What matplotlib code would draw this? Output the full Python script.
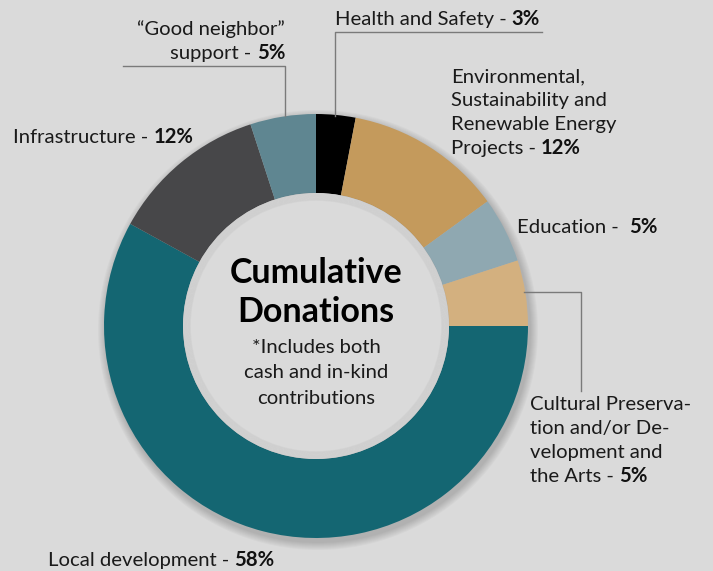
import matplotlib
matplotlib.use("Agg")
import matplotlib.pyplot as plt
from matplotlib.patches import Circle

# data
categories = ["Health and Safety", "Environmental, Sustainability and Renewable Energy Projects",
              "Education", "Cultural Preservation and/or Development and the Arts",
              "Local development", "Infrastructure", "\u201cGood neighbor\u201d support"]
shares = [3, 12, 5, 5, 58, 12, 5]
colors = ["#000000", "#c49a5c", "#8fa8b1", "#d3b07f", "#146672", "#474749", "#5f8691"]

W, H = 713, 571
BG = "#dadada"
FONT = ["Lato", "DejaVu Sans"]
FS = 14.6
LINE = "#7a7a7a"

fig = plt.figure(figsize=(W / 100, H / 100), dpi=100, facecolor=BG)
ax = fig.add_axes([0, 0, 1, 1])
ax.set_facecolor(BG)

cx, cy = 316, H - 326
r_out, r_in = 212, 133

# soft shadow behind the ring
for k in range(8):
    ax.add_patch(Circle((cx + 2, cy - 4), r_out + 8 - k, color="#000000", alpha=0.022, lw=0, zorder=0))

ax.pie(shares, colors=colors, startangle=90, counterclock=False, radius=r_out,
       center=(cx, cy), frame=True, wedgeprops=dict(width=r_out - r_in, linewidth=0))

# hole with soft inner shading
ax.add_patch(Circle((cx, cy), r_in, color=BG, lw=0, zorder=3))
for k in range(10):
    ax.add_patch(Circle((cx, cy), r_in - 0.8 * k, fill=False, ec="#000000", lw=1.0, alpha=0.022, zorder=4))

ax.set_xlim(0, W)
ax.set_ylim(0, H)
ax.set_aspect("equal")
ax.axis("off")

renderer = fig.canvas.get_renderer()


def y(v):
    return H - v


def label(x, yb, text, value, ha="left"):
    # regular text followed by a bold value on the same baseline
    if ha == "left":
        t = ax.text(x, y(yb), text, fontsize=FS, family=FONT, va="baseline", ha="left", color="#1a1a1a")
        bb = t.get_window_extent(renderer)
        x2 = ax.transData.inverted().transform((bb.x1, 0))[0]
        ax.text(x2, y(yb), value, fontsize=FS, family=FONT, fontweight="bold", va="baseline", ha="left", color="#111111")
    else:
        t = ax.text(x, y(yb), value, fontsize=FS, family=FONT, fontweight="bold", va="baseline", ha="right", color="#111111")
        bb = t.get_window_extent(renderer)
        x2 = ax.transData.inverted().transform((bb.x0, 0))[0]
        ax.text(x2, y(yb), text, fontsize=FS, family=FONT, va="baseline", ha="right", color="#1a1a1a")


def plain(x, yb, text, ha="left"):
    ax.text(x, y(yb), text, fontsize=FS, family=FONT, va="baseline", ha=ha, color="#1a1a1a")


def pct(v):
    return f"{v}%"


# Health and Safety
label(335, 25, "Health and Safety - ", pct(shares[0]))
ax.plot([335, 335, 542], [y(116), y(32), y(32)], color=LINE, lw=1, zorder=1)

# Environmental
plain(451, 82, "Environmental,")
plain(451, 106, "Sustainability and")
plain(451, 130, "Renewable Energy")
label(451, 154, "Projects - ", pct(shares[1]))

# Education
label(517, 233, "Education -  ", pct(shares[2]))

# Cultural
ax.plot([524, 581, 581], [y(292), y(292), y(391)], color=LINE, lw=1, zorder=1)
plain(530, 410, "Cultural Preserva-")
plain(530, 434, "tion and/or De-")
plain(530, 458, "velopment and")
label(530, 482, "the Arts - ", pct(shares[3]))

# Local development
label(48, 566, "Local development - ", pct(shares[4]))

# Infrastructure
label(13, 143, "Infrastructure - ", pct(shares[5]))

# Good neighbor
ax.plot([123, 285, 285], [y(66), y(66), y(116)], color=LINE, lw=1, zorder=1)
plain(285, 35, "\u201cGood neighbor\u201d", ha="right")
label(285, 59, "support - ", pct(shares[6]), ha="right")

# center text
ax.text(cx, y(283), "Cumulative", fontsize=24.5, family=FONT, fontweight="bold", ha="center", va="baseline", color="#000000", zorder=5)
ax.text(cx, y(322), "Donations", fontsize=24.5, family=FONT, fontweight="bold", ha="center", va="baseline", color="#000000", zorder=5)
for i, s in enumerate(["*Includes both", "cash and in-kind", "contributions"]):
    ax.text(cx, y(353 + 25.5 * i), s, fontsize=FS, family=FONT, ha="center", va="baseline", color="#1a1a1a", zorder=5)

fig.savefig("out.png", dpi=100, facecolor=BG)
